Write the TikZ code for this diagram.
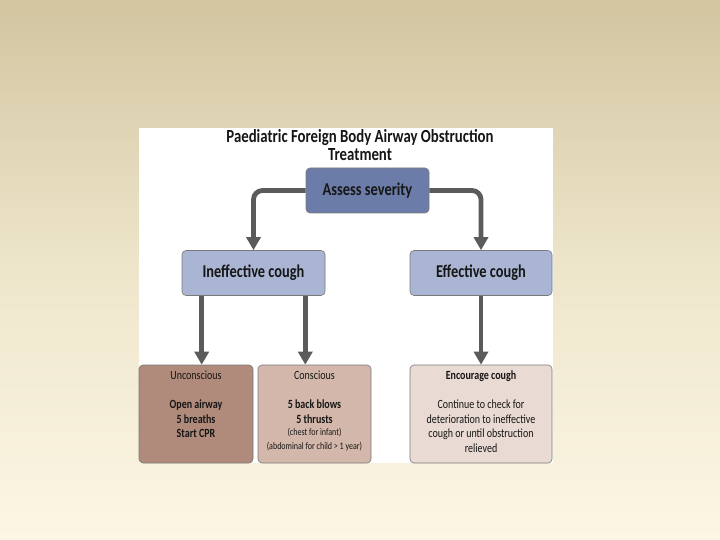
\documentclass[tikz,border=0pt]{standalone}
\usepackage{fontspec}
\setmainfont{Carlito}[FakeStretch=0.8]
\usepackage{xcolor}
\usetikzlibrary{arrows.meta, positioning, calc}

\definecolor{bgtop}{HTML}{D2C5A0}
\definecolor{bgmid}{HTML}{EEE6CB}
\definecolor{bgbot}{HTML}{FDF6E4}
\definecolor{assessfill}{HTML}{6C7CA8}
\definecolor{coughfill}{HTML}{AAB5D3}
\definecolor{uncfill}{HTML}{B08A7B}
\definecolor{consfill}{HTML}{D3B7AA}
\definecolor{encfill}{HTML}{E9DBD3}
\definecolor{arrowgray}{HTML}{5B5B5B}
\definecolor{boxline}{HTML}{7A7A7A}
\definecolor{inkdark}{HTML}{161616}

\begin{document}
\begin{tikzpicture}[
    x=1pt, y=-1pt,
    >=Stealth,
    % --- Box styles ---
    stepbox/.style={draw=boxline, line width=0.6pt, rounded corners=4pt,
        fill=#1, align=center, text=inkdark, inner sep=0pt},
    toprow/.style={stepbox=#1, minimum height=45pt,
        font=\fontsize{18}{19}\selectfont\bfseries},
    cell/.style={stepbox=#1, minimum height=98pt, font=\fontsize{12.5}{14.5}\selectfont},
    % --- Arrow styles ---
    conn/.style={-{Triangle[length=13pt, width=14pt]}, line width=4.8pt,
        color=arrowgray, rounded corners=9pt},
]

% =============================================
%  Background
% =============================================
\useasboundingbox (0,0) rectangle (720,540);
\shade[top color=bgtop, bottom color=bgbot, middle color=bgmid] (0,0) rectangle (720,540);
\fill[white] (139,128) rectangle (553,463);

% =============================================
%  Title
% =============================================
\node[align=center, font=\fontsize{18.5}{18}\selectfont\bfseries, text=inkdark] (title) at (360,145)
    {Paediatric Foreign Body Airway Obstruction\\Treatment};

% =============================================
%  Row 1 + 2
% =============================================
\node[toprow=assessfill, minimum width=123pt] (assess) at (367.5,190.5) {Assess severity};
\node[toprow=coughfill, minimum width=143pt]  (ineff)  at (253.5,273)   {Ineffective cough};
\node[toprow=coughfill, minimum width=142pt]  (eff)    at (481,273)     {Effective cough};

% =============================================
%  Row 3: actions
% =============================================
\node[cell=uncfill, minimum width=114pt] (uncon) at (196,414)
    {\parbox[t][86pt][t]{110pt}{\centering Unconscious\\[14.5pt]
     \textbf{Open airway}\\ \textbf{5 breaths}\\ \textbf{Start CPR}}};
\node[cell=consfill, minimum width=113pt] (cons) at (314.5,414)
    {\parbox[t][86pt][t]{110pt}{\centering Conscious\\[14.5pt]
     \textbf{5 back blows}\\ \textbf{5 thrusts}\\[-1pt]
     {\fontsize{10}{13}\selectfont (chest for infant)\\ (abdominal for child > 1 year)}}};
\node[cell=encfill, minimum width=142pt] (enc) at (481,414)
    {\parbox[t][86pt][t]{138pt}{\centering \textbf{Encourage cough}\\[14.5pt]
     Continue to check for\\ deterioration to ineffective\\ cough or until obstruction\\ relieved}};

% =============================================
%  Connections
% =============================================
\draw[conn] (assess.west) -| (ineff.north);
\draw[conn] (assess.east) -| (eff.north);
\draw[conn] ([xshift=20pt]ineff.south west) -- ([xshift=20pt]ineff.south west |- uncon.north);
\draw[conn] ([xshift=-20pt]ineff.south east) -- ([xshift=-20pt]ineff.south east |- cons.north);
\draw[conn] (eff.south) -- (enc.north);

\end{tikzpicture}
\end{document}
